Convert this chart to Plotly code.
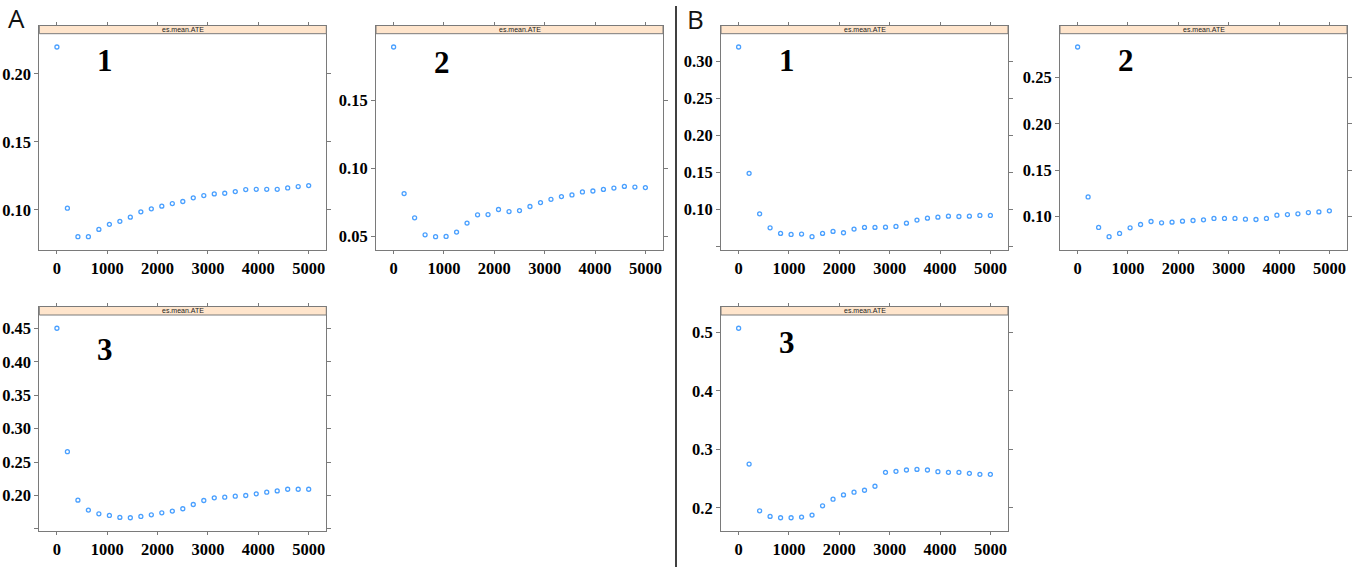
import plotly.graph_objects as go

W, H = 1359, 567

# ---- data ----
iterations = [0, 208, 417, 625, 833, 1042, 1250, 1458, 1667, 1875, 2083, 2292, 2500,
              2708, 2917, 3125, 3333, 3542, 3750, 3958, 4167, 4375, 4583, 4792, 5000]

a1_ate = [0.2198, 0.1012, 0.0802, 0.0802, 0.0856, 0.0893, 0.0915, 0.0946, 0.0985, 0.1007,
          0.1027, 0.1046, 0.1061, 0.1088, 0.1105, 0.1117, 0.1122, 0.1134, 0.1149, 0.1151,
          0.1151, 0.1151, 0.1161, 0.1171, 0.1178]
a2_ate = [0.1893, 0.0815, 0.0637, 0.0512, 0.0498, 0.0500, 0.0532, 0.0598, 0.0659, 0.0661,
          0.0698, 0.0683, 0.0690, 0.0720, 0.0749, 0.0773, 0.0793, 0.0805, 0.0827, 0.0834,
          0.0846, 0.0856, 0.0868, 0.0863, 0.0859]
a3_ate = [0.4500, 0.2655, 0.1931, 0.1782, 0.1727, 0.1702, 0.1673, 0.1668, 0.1687, 0.1712,
          0.1742, 0.1767, 0.1802, 0.1866, 0.1926, 0.1965, 0.1975, 0.1990, 0.2000, 0.2025,
          0.2050, 0.2069, 0.2094, 0.2094, 0.2094]
b1_ate = [0.3199, 0.1486, 0.0937, 0.0748, 0.0672, 0.0658, 0.0663, 0.0627, 0.0672, 0.0699,
          0.0681, 0.0730, 0.0753, 0.0753, 0.0757, 0.0766, 0.0811, 0.0852, 0.0879, 0.0892,
          0.0906, 0.0901, 0.0906, 0.0915, 0.0915]
b2_ate = [0.2829, 0.1211, 0.0882, 0.0782, 0.0817, 0.0878, 0.0914, 0.0946, 0.0932, 0.0939,
          0.0950, 0.0957, 0.0964, 0.0979, 0.0979, 0.0979, 0.0971, 0.0968, 0.0979, 0.1014,
          0.1021, 0.1029, 0.1043, 0.1050, 0.1061]
b3_ate = [0.5074, 0.2749, 0.1949, 0.1853, 0.1830, 0.1830, 0.1841, 0.1875, 0.2034, 0.2147,
          0.2221, 0.2267, 0.2301, 0.2369, 0.2607, 0.2624, 0.2647, 0.2658, 0.2647, 0.2618,
          0.2607, 0.2607, 0.2590, 0.2573, 0.2573]

x_tickvals = [0, 1000, 2000, 3000, 4000, 5000]
x_ticktext = ["0", "1000", "2000", "3000", "4000", "5000"]

a1_yticks = [0.10, 0.15, 0.20]
a1_ylabels = ["0.10", "0.15", "0.20"]
a2_yticks = [0.05, 0.10, 0.15]
a2_ylabels = ["0.05", "0.10", "0.15"]
a3_yticks = [0.15, 0.20, 0.25, 0.30, 0.35, 0.40, 0.45]
a3_ylabels = ["", "0.20", "0.25", "0.30", "0.35", "0.40", "0.45"]
b1_yticks = [0.05, 0.10, 0.15, 0.20, 0.25, 0.30]
b1_ylabels = ["", "0.10", "0.15", "0.20", "0.25", "0.30"]
b2_yticks = [0.10, 0.15, 0.20, 0.25]
b2_ylabels = ["0.10", "0.15", "0.20", "0.25"]
b3_yticks = [0.2, 0.3, 0.4, 0.5]
b3_ylabels = ["0.2", "0.3", "0.4", "0.5"]

strip_label = "es.mean.ATE"
panel_numbers = ["1", "2", "3", "1", "2", "3"]
section_labels = ["A", "B"]

# ---- layout (pixels) ----
TOP_ROW = (25.5, 33.7, 250.0)     # strip top, strip bottom, plot bottom
BOT_ROW = (306.5, 315.0, 531.0)
PW = 287.0
panels = [
    dict(y=a1_ate, yt=a1_yticks, yl=a1_ylabels, left=39.3, row=TOP_ROW, num_y=61),
    dict(y=a2_ate, yt=a2_yticks, yl=a2_ylabels, left=376.0, row=TOP_ROW, num_y=62),
    dict(y=a3_ate, yt=a3_yticks, yl=a3_ylabels, left=39.3, row=BOT_ROW, num_y=349),
    dict(y=b1_ate, yt=b1_yticks, yl=b1_ylabels, left=721.0, row=TOP_ROW, num_y=60),
    dict(y=b2_ate, yt=b2_yticks, yl=b2_ylabels, left=1060.0, row=TOP_ROW, num_y=61),
    dict(y=b3_ate, yt=b3_yticks, yl=b3_ylabels, left=721.0, row=BOT_ROW, num_y=342),
]

FRAME = "#7a7a7a"
MARK = "#4aa0ff"
tick_font = dict(family="Liberation Serif", size=16.5, color="black", weight="bold")

fig = go.Figure()
shapes = []
annotations = []
layout = {}

for i, p in enumerate(panels, start=1):
    st, sb, bot = p["row"]
    left = p["left"]
    right = left + PW
    ymin, ymax = min(p["y"]), max(p["y"])
    span = ymax - ymin
    lo = ymin - 0.07 * span
    hi = ymax + 0.07 * span
    hi_ext = hi + (hi - lo) * (sb - st) / (bot - sb)

    xa = "x" if i == 1 else f"x{i}"
    ya = "y" if i == 1 else f"y{i}"
    fig.add_trace(go.Scatter(
        x=iterations, y=p["y"], mode="markers", xaxis=xa, yaxis=ya,
        marker=dict(symbol="circle-open", size=4, color=MARK, line=dict(width=1.3)),
        showlegend=False, hoverinfo="x+y"))

    layout["xaxis" if i == 1 else f"xaxis{i}"] = dict(
        domain=[left / W, right / W], anchor=ya, range=[-350, 5350],
        tickvals=x_tickvals, ticktext=x_ticktext, ticks="outside", ticklen=3,
        tickcolor=FRAME, showline=True, linecolor=FRAME, linewidth=1, mirror="ticks",
        showgrid=False, zeroline=False, tickfont=tick_font, fixedrange=True)
    layout["yaxis" if i == 1 else f"yaxis{i}"] = dict(
        domain=[1 - bot / H, 1 - st / H], anchor=xa, range=[lo, hi_ext],
        tickvals=p["yt"], ticktext=p["yl"], ticks="outside", ticklen=4,
        tickcolor=FRAME, showline=True, linecolor=FRAME, linewidth=1, mirror="ticks",
        showgrid=False, zeroline=False, tickfont=tick_font, fixedrange=True)

    # strip
    shapes.append(dict(type="rect", xref="paper", yref="paper",
                       x0=left / W, x1=right / W, y0=1 - sb / H, y1=1 - st / H,
                       fillcolor="#FFE5CC", line=dict(color=FRAME, width=1), layer="above"))
    annotations.append(dict(text=strip_label, xref="paper", yref="paper",
                            x=(left + right) / 2 / W, y=1 - (st + sb) / 2 / H,
                            xanchor="center", yanchor="middle", showarrow=False,
                            font=dict(family="Liberation Sans", size=7, color="#222")))
    # panel number
    annotations.append(dict(text=panel_numbers[i - 1], xref="paper", yref="paper",
                            x=(left + 66) / W, y=1 - p["num_y"] / H,
                            xanchor="center", yanchor="middle", showarrow=False,
                            font=dict(family="Liberation Serif", size=31, color="black",
                                      weight="bold")))

# section labels
annotations.append(dict(text=section_labels[0], xref="paper", yref="paper",
                        x=16 / W, y=1 - 18 / H, xanchor="center", yanchor="middle",
                        showarrow=False, font=dict(family="Open Sans", size=26, color="#111")))
annotations.append(dict(text=section_labels[1], xref="paper", yref="paper",
                        x=695 / W, y=1 - 19 / H, xanchor="center", yanchor="middle",
                        showarrow=False, font=dict(family="Open Sans", size=26, color="#111")))

# separator
shapes.append(dict(type="line", xref="paper", yref="paper",
                   x0=676 / W, x1=676 / W, y0=0, y1=1 - 6 / H,
                   line=dict(color="black", width=1.5)))

fig.update_layout(width=W, height=H, margin=dict(l=0, r=0, t=0, b=0),
                  paper_bgcolor="white", plot_bgcolor="white",
                  shapes=shapes, annotations=annotations, showlegend=False, **layout)

fig.write_html("out.html", config={"displayModeBar": False},
               post_script="document.body.style.margin='0';document.body.style.overflow='hidden';")
